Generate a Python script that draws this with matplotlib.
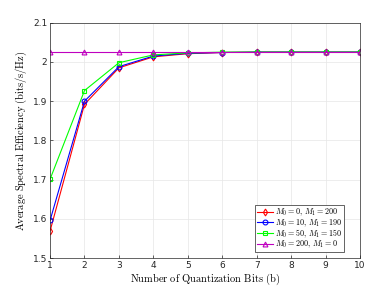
import matplotlib
matplotlib.use("Agg")
import matplotlib.pyplot as plt

plt.rcParams['mathtext.fontset'] = 'cm'

bits = [1, 2, 3, 4, 5, 6, 7, 8, 9, 10]
se_m0_0 = [1.569, 1.892, 1.985, 2.013, 2.021, 2.024, 2.025, 2.025, 2.025, 2.025]
se_m0_10 = [1.596, 1.900, 1.988, 2.015, 2.022, 2.024, 2.025, 2.025, 2.025, 2.025]
se_m0_50 = [1.701, 1.927, 1.998, 2.018, 2.023, 2.025, 2.025, 2.025, 2.025, 2.025]
se_m0_200 = [2.025, 2.025, 2.025, 2.025, 2.025, 2.025, 2.025, 2.025, 2.025, 2.025]

labels = [r'$M_0=0,\, M_1=200$', r'$M_0=10,\, M_1=190$',
          r'$M_0=50,\, M_1=150$', r'$M_0=200,\, M_1=0$']

fig = plt.figure(figsize=(3.88, 2.91), dpi=100)
ax = fig.add_axes([0.129, 0.113, 0.799, 0.809])

series = [(se_m0_0, 'r', 'd'), (se_m0_10, 'b', 'o'),
          (se_m0_50, '#00ff00', 's'), (se_m0_200, 'm', '^')]
for (vals, c, m), lab in zip(series, labels):
    ax.plot(bits, vals, color=c, marker=m, markersize=3.5, markerfacecolor='none',
            markeredgewidth=0.8, linewidth=0.8, label=lab)

ax.set_xlim(1, 10)
ax.set_ylim(1.5, 2.1)
ax.set_xticks(bits)
ax.set_yticks([1.5, 1.6, 1.7, 1.8, 1.9, 2.0, 2.1])
ax.set_yticklabels(['1.5', '1.6', '1.7', '1.8', '1.9', '2', '2.1'])
ax.tick_params(labelsize=6.5, length=2, width=0.5, direction='in', colors='#262626', pad=2)
ax.grid(True, color='#e6e6e6', linewidth=0.5)
for s in ax.spines.values():
    s.set_linewidth(0.5)
    s.set_color('#262626')

ax.set_xlabel(r'$\mathrm{Number\ of\ Quantization\ Bits\ (b)}$', fontsize=7.5, labelpad=1)
ax.set_ylabel(r'$\mathrm{Average\ Spectral\ Efficiency\ (bits/s/Hz)}$', fontsize=7.5, labelpad=3)

leg = ax.legend(loc='lower right', bbox_to_anchor=(0.948, 0.027), borderaxespad=0,
                fontsize=5.8, handlelength=2.0, handletextpad=0.3,
                borderpad=0.2, labelspacing=-0.15, fancybox=False, framealpha=1)
leg.get_frame().set_edgecolor('#262626')
leg.get_frame().set_linewidth(0.5)

fig.savefig('out.png', dpi=100)
